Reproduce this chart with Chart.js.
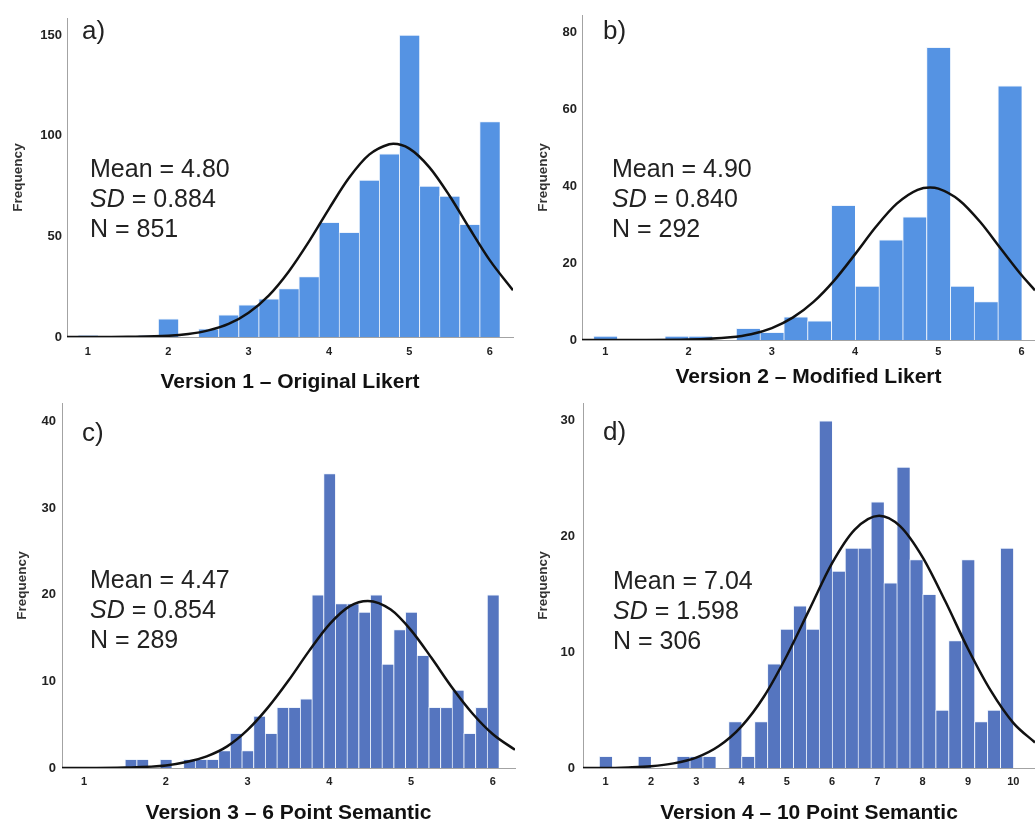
<!DOCTYPE html>
<html>
<head>
<meta charset="utf-8">
<title>Score distributions by version</title>
<script src="https://cdn.jsdelivr.net/npm/chart.js@4.4.1/dist/chart.umd.min.js"></script>
<style>
  body { margin: 0; background: #fff; width: 1035px; height: 823px; overflow: hidden; position: relative;
         font-family: "Liberation Sans", Arial, sans-serif; }
  canvas { position: absolute; }
  .stats { position: absolute; font-size: 25px; line-height: 30px; color: #222; white-space: nowrap; }
  .tag { position: absolute; font-size: 26px; line-height: 26px; color: #222; }
</style>
</head>
<body>
<canvas id="chartA" width="520" height="400" style="left:0;top:0"></canvas>
<canvas id="chartB" width="515" height="400" style="left:520px;top:0"></canvas>
<canvas id="chartC" width="520" height="423" style="left:0;top:400px"></canvas>
<canvas id="chartD" width="515" height="423" style="left:520px;top:400px"></canvas>

<div class="tag" style="left:82px;top:17px">a)</div>
<div class="tag" style="left:603px;top:17px">b)</div>
<div class="tag" style="left:82px;top:419px">c)</div>
<div class="tag" style="left:603px;top:418px">d)</div>

<div class="stats" style="left:90px;top:153px">Mean = 4.80<br><i>SD</i> = 0.884<br>N = 851</div>
<div class="stats" style="left:612px;top:153px">Mean = 4.90<br><i>SD</i> = 0.840<br>N = 292</div>
<div class="stats" style="left:90px;top:564px">Mean = 4.47<br><i>SD</i> = 0.854<br>N = 289</div>
<div class="stats" style="left:613px;top:565px">Mean = 7.04<br><i>SD</i> = 1.598<br>N = 306</div>

<script>
// Histograms of the four questionnaire versions, each with its normal curve

// a) Version 1 - Original Likert
const binsA = [1, 1.25, 1.5, 1.75, 2, 2.25, 2.5, 2.75, 3, 3.25, 3.5, 3.75, 4, 4.25, 4.5, 4.75, 5, 5.25, 5.5, 5.75, 6];
const countsA = [1, 0, 0, 1, 9, 0, 4, 11, 16, 19, 24, 30, 57, 52, 78, 91, 150, 75, 70, 56, 107];
const curveAX = [0.74, 1, 1.5, 2, 2.25, 2.5, 2.75, 3, 3.25, 3.5, 3.75, 4, 4.25, 4.5, 4.75, 4.8, 5, 5.25, 5.5, 5.75, 6, 6.29];
const curveAY = [0, 0, 0.1, 0.6, 1.5, 3.3, 6.5, 12.1, 20.6, 32.6, 47.4, 63.7, 79.1, 90.6, 95.8, 96.0, 93.6, 84.3, 70.2, 53.9, 38.2, 23.2];
const xTicksA = [1, 2, 3, 4, 5, 6];
const yTicksA = [0, 50, 100, 150];

// b) Version 2 - Modified Likert
const binsB = [1, 1.286, 1.571, 1.857, 2.143, 2.429, 2.714, 3, 3.286, 3.571, 3.857, 4.143, 4.429, 4.714, 5, 5.286, 5.571, 5.857];
const countsB = [1, 0, 0, 1, 1, 0, 3, 2, 6, 5, 35, 14, 26, 32, 76, 14, 10, 66];
const curveBX = [0.72, 1, 1.5, 2, 2.5, 2.75, 3, 3.25, 3.5, 3.75, 4, 4.25, 4.5, 4.75, 4.9, 5, 5.25, 5.5, 5.75, 6, 6.16];
const curveBY = [0, 0, 0, 0.1, 0.7, 1.5, 3.1, 5.8, 9.9, 15.5, 22.3, 29.4, 35.4, 39.0, 39.6, 39.3, 36.3, 30.7, 23.7, 16.8, 12.9];
const xTicksB = [1, 2, 3, 4, 5, 6];
const yTicksB = [0, 20, 40, 60, 80];

// c) Version 3 - 6 Point Semantic
const binsC = [1, 1.143, 1.286, 1.429, 1.571, 1.714, 1.857, 2, 2.143, 2.286, 2.429, 2.571, 2.714, 2.857, 3, 3.143, 3.286, 3.429,
               3.571, 3.714, 3.857, 4, 4.143, 4.286, 4.429, 4.571, 4.714, 4.857, 5, 5.143, 5.286, 5.429, 5.571, 5.714, 5.857, 6];
const countsC = [0, 0, 0, 0, 1, 1, 0, 1, 0, 1, 1, 1, 2, 4, 2, 6, 4, 7,
                 7, 8, 20, 34, 19, 19, 18, 20, 12, 16, 18, 13, 7, 7, 9, 4, 7, 20];
const curveCX = [0.73, 1, 1.5, 2, 2.25, 2.5, 2.75, 3, 3.25, 3.5, 3.75, 4, 4.25, 4.47, 4.75, 5, 5.25, 5.5, 5.75, 6, 6.27];
const curveCY = [0, 0, 0.05, 0.3, 0.7, 1.35, 2.5, 4.4, 7.0, 10.1, 13.5, 16.6, 18.7, 19.3, 18.3, 15.9, 12.7, 9.3, 6.3, 3.9, 2.1];
const xTicksC = [1, 2, 3, 4, 5, 6];
const yTicksC = [0, 10, 20, 30, 40];

// d) Version 4 - 10 Point Semantic
const binsD = [1, 1.286, 1.571, 1.857, 2.143, 2.429, 2.714, 3, 3.286, 3.571, 3.857, 4.143, 4.429, 4.714, 5, 5.286,
               5.571, 5.857, 6.143, 6.429, 6.714, 7, 7.286, 7.571, 7.857, 8.143, 8.429, 8.714, 9, 9.286, 9.571, 9.857];
const countsD = [1, 0, 0, 1, 0, 0, 1, 1, 1, 0, 4, 1, 4, 9, 12, 14,
                 12, 30, 17, 19, 19, 23, 16, 26, 18, 15, 5, 11, 18, 4, 5, 19];
const curveDX = [0.5, 1, 1.5, 2, 2.5, 3, 3.5, 4, 4.5, 5, 5.5, 6, 6.5, 7.04, 7.5, 8, 8.5, 9, 9.5, 10, 10.48];
const curveDY = [0, 0, 0.05, 0.15, 0.4, 0.9, 1.9, 3.6, 6.2, 9.7, 13.7, 17.7, 20.6, 21.8, 20.9, 18.2, 14.4, 10.3, 6.7, 3.9, 2.2];
const xTicksD = [1, 2, 3, 4, 5, 6, 7, 8, 9, 10];
const yTicksD = [0, 10, 20, 30];

const textColor = '#222';
const axisColor = '#a3a3a3';

function toPoints(xs, ys) {
    const pts = [];
    for (let i = 0; i < xs.length; i++) {
        pts.push({ x: xs[i], y: ys[i] });
    }
    return pts;
}

function drawHistogram(canvasId, p) {
    const el = document.getElementById(canvasId);
    if (!el) return;
    new Chart(el, {
        type: 'bar',
        data: {
            datasets: [{
                type: 'line',
                data: toPoints(p.curveX, p.curveY),
                borderColor: '#111',
                borderWidth: 2.5,
                pointRadius: 0,
                fill: false,
                cubicInterpolationMode: 'monotone',
                order: 0
            }, {
                type: 'bar',
                data: toPoints(p.bins, p.counts),
                backgroundColor: p.color,
                borderColor: 'rgba(235,242,252,0.85)',
                borderWidth: { left: 1, top: 1, right: 0, bottom: 0 },
                borderSkipped: 'start',
                barPercentage: 1,
                categoryPercentage: 1,
                order: 1
            }]
        },
        options: {
            responsive: false,
            animation: false,
            devicePixelRatio: 1,
            events: [],
            layout: { padding: { top: p.padTop, right: p.padRight, left: 0, bottom: 0 } },
            plugins: { legend: { display: false }, tooltip: { enabled: false } },
            scales: {
                x: {
                    type: 'linear',
                    min: p.xMin,
                    max: p.xMax,
                    offset: false,
                    grid: { display: false, drawTicks: false },
                    border: { display: true, color: axisColor, width: 1 },
                    ticks: {
                        color: textColor,
                        font: { family: 'Liberation Sans', size: 11, weight: 'bold' },
                        padding: p.xTickPad,
                        maxRotation: 0
                    },
                    afterBuildTicks: s => { s.ticks = p.xTicks.map(v => ({ value: v })); },
                    afterFit: s => { s.height = p.xHeight; s.paddingLeft = 0; s.paddingRight = 0; },
                    title: {
                        display: true,
                        text: p.title,
                        color: '#111',
                        font: { family: 'Liberation Sans', size: 21, weight: 'bold', lineHeight: p.titleLH },
                        padding: { top: 0, bottom: p.titlePad }
                    }
                },
                y: {
                    min: 0,
                    max: p.yMax,
                    grid: { display: false, drawTicks: false },
                    border: { display: true, color: axisColor, width: 1 },
                    ticks: {
                        color: textColor,
                        font: { family: 'Liberation Sans', size: 13, weight: 'bold' },
                        padding: p.yTickPad
                    },
                    afterBuildTicks: s => { s.ticks = p.yTicks.map(v => ({ value: v })); },
                    afterFit: s => { s.width = p.yWidth; s.paddingTop = 0; s.paddingBottom = 0; },
                    title: {
                        display: true,
                        text: 'Frequency',
                        color: '#333',
                        font: { family: 'Liberation Sans', size: 13.5, weight: 'bold' },
                        padding: { top: p.yTitlePad, bottom: 0 }
                    }
                }
            }
        }
    });
}

drawHistogram('chartA', {
    bins: binsA, counts: countsA, curveX: curveAX, curveY: curveAY, xTicks: xTicksA, yTicks: yTicksA,
    title: 'Version 1 \u2013 Original Likert', color: '#5593E3',
    xMin: 0.74, xMax: 6.29, yMax: 158.5,
    padTop: 18, padRight: 7, yWidth: 67, xHeight: 63,
    xTickPad: 8, yTickPad: 5, titlePad: 5.4, titleLH: 1.2, yTitlePad: 9.9
});

drawHistogram('chartB', {
    bins: binsB, counts: countsB, curveX: curveBX, curveY: curveBY, xTicks: xTicksB, yTicks: yTicksB,
    title: 'Version 2 \u2013 Modified Likert', color: '#5593E3',
    xMin: 0.72, xMax: 6.16, yMax: 84.4,
    padTop: 15, padRight: 0, yWidth: 62, xHeight: 60,
    xTickPad: 5, yTickPad: 5, titlePad: 10.4, titleLH: 1.2, yTitlePad: 14.9
});

drawHistogram('chartC', {
    bins: binsC, counts: countsC, curveX: curveCX, curveY: curveCY, xTicks: xTicksC, yTicks: yTicksC,
    title: 'Version 3 \u2013 6 Point Semantic', color: '#5575BF',
    xMin: 0.73, xMax: 6.27, yMax: 42.16,
    padTop: 3, padRight: 5, yWidth: 62, xHeight: 55,
    xTickPad: 7.4, yTickPad: 6, titlePad: 0, titleLH: 0.95, yTitlePad: 13.9
});

drawHistogram('chartD', {
    bins: binsD, counts: countsD, curveX: curveDX, curveY: curveDY, xTicks: xTicksD, yTicks: yTicksD,
    title: 'Version 4 \u2013 10 Point Semantic', color: '#5575BF',
    xMin: 0.5, xMax: 10.48, yMax: 31.53,
    padTop: 3, padRight: 0, yWidth: 63, xHeight: 55,
    xTickPad: 7.4, yTickPad: 8, titlePad: 0, titleLH: 0.95, yTitlePad: 14.9
});
</script>
</body>
</html>
